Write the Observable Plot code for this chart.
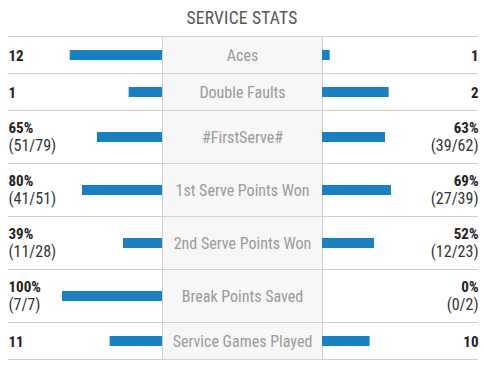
<!DOCTYPE html>
<html>
<head>
<meta charset="utf-8">
<script src="https://cdn.jsdelivr.net/npm/d3@7"></script>
<script src="https://cdn.jsdelivr.net/npm/@observablehq/plot@0.6"></script>
<style>
  html, body { margin: 0; padding: 0; background: #fff; }
  body { width: 484px; font-family: "Roboto Condensed", "Liberation Sans Narrow", "Arial Narrow", Roboto, sans-serif; }
  #title { height: 35px; line-height: 36px; text-align: center; font-size: 17.5px; color: #555; letter-spacing: 0.2px; }
  svg { display: block; }
</style>
</head>
<body>
<div id="title">SERVICE STATS</div>
<div id="chart"></div>
<script>
const categories = ["Aces", "Double Faults", "#FirstServe#", "1st Serve Points Won", "2nd Serve Points Won", "Break Points Saved", "Service Games Played"];
const leftLabels = ["12", "1", "65%", "80%", "39%", "100%", "11"];
const leftDetails = [null, null, "(51/79)", "(41/51)", "(11/28)", "(7/7)", null];
const rightLabels = ["1", "2", "63%", "69%", "52%", "0%", "10"];
const rightDetails = [null, null, "(39/62)", "(27/39)", "(12/23)", "(0/2)", null];
const leftValues = [12, 1, 65, 80, 39, 100, 11];
const rightValues = [1, 2, 63, 69, 52, 0, 10];
const isPercent = [false, false, true, true, true, true, false];

// layout (not data): rows with a detail line are taller
const ROW_SINGLE = 37, ROW_DOUBLE = 53, HALF_BOX = 80;
let acc = 0;
const rows = categories.map((c, i) => {
  const h = leftDetails[i] ? ROW_DOUBLE : ROW_SINGLE;
  const top = acc; acc += h;
  const total = leftValues[i] + rightValues[i];
  const lShare = isPercent[i] ? leftValues[i] : (total ? 100 * leftValues[i] / total : 0);
  const rShare = isPercent[i] ? rightValues[i] : (total ? 100 * rightValues[i] / total : 0);
  return {
    category: c, top, bottom: acc, mid: top + h / 2,
    left: leftLabels[i], right: rightLabels[i],
    leftDetail: leftDetails[i], rightDetail: rightDetails[i],
    lShare, rShare, two: !!leftDetails[i]
  };
});
const totalH = acc;
const bounds = [0, ...rows.map(r => r.bottom)];
const singles = rows.filter(d => !d.two);
const doubles = rows.filter(d => d.two);

const fontFamily = '"Roboto Condensed", "Liberation Sans Narrow", "Arial Narrow", Roboto, sans-serif';

const chart = Plot.plot({
  width: 484,
  height: 329,
  margin: 0,
  x: { domain: [-242, 242], range: [0, 484], axis: null },
  y: { domain: [0, totalH], range: [1, 1 + totalH], axis: null },
  style: { fontFamily, background: "#fff" },
  marks: [
    Plot.rect([0], { x1: -HALF_BOX, x2: HALF_BOX, y1: 0, y2: totalH, fill: "#f7f7f7" }),
    Plot.ruleX([-HALF_BOX, HALF_BOX], { y1: 0, y2: totalH, stroke: "#cfcfcf", strokeWidth: 1 }),
    Plot.ruleY(bounds, { x1: -234, x2: 236, stroke: "#cfcfcf", strokeWidth: 1 }),
    Plot.rect(rows, { x1: -HALF_BOX, x2: d => -HALF_BOX - d.lShare, y1: d => d.mid - 4.5, y2: d => d.mid + 5.5, fill: "#1b80c2" }),
    Plot.rect(rows.filter(d => d.rShare > 0), { x1: HALF_BOX, x2: d => HALF_BOX + d.rShare, y1: d => d.mid - 4.5, y2: d => d.mid + 5.5, fill: "#1b80c2" }),
    Plot.text(rows, { x: 0, y: "mid", text: "category", fill: "#9a9a9a", fontSize: 16, dy: 1 }),
    Plot.text(singles, { x: -234, y: "mid", text: "left", textAnchor: "start", fill: "#222", fontWeight: "bold", fontSize: 15, dy: 1 }),
    Plot.text(singles, { x: 236, y: "mid", text: "right", textAnchor: "end", fill: "#222", fontWeight: "bold", fontSize: 15, dy: 1 }),
    Plot.text(doubles, { x: -234, y: "mid", text: "left", textAnchor: "start", fill: "#222", fontWeight: "bold", fontSize: 15, dy: -8.5 }),
    Plot.text(doubles, { x: 236, y: "mid", text: "right", textAnchor: "end", fill: "#222", fontWeight: "bold", fontSize: 15, dy: -8.5 }),
    Plot.text(doubles, { x: -234, y: "mid", text: "leftDetail", textAnchor: "start", fill: "#333", fontSize: 16, dy: 9 }),
    Plot.text(doubles, { x: 236, y: "mid", text: "rightDetail", textAnchor: "end", fill: "#333", fontSize: 16, dy: 9 })
  ]
});
document.getElementById("chart").appendChild(chart);
</script>
</body>
</html>
